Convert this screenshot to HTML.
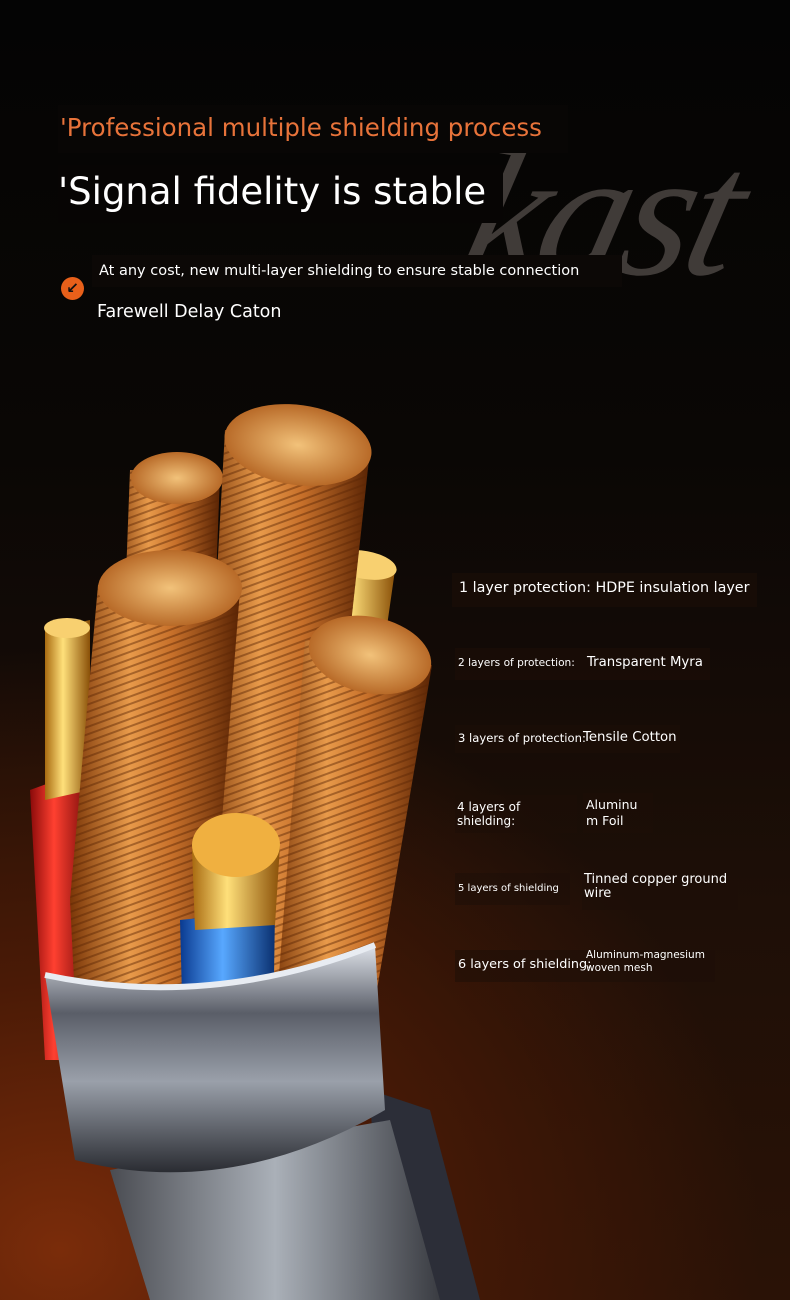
<!DOCTYPE html>
<html><head><meta charset="utf-8"><style>
html,body{margin:0;padding:0}
body{width:790px;height:1300px;position:relative;overflow:hidden;font-family:"DejaVu Sans","Liberation Sans",sans-serif;
background:radial-gradient(ellipse 700px 600px at 60px 1250px,#7a2c0a 0%,#4a1a06 45%,rgba(20,8,3,0) 100%),linear-gradient(180deg,#040404 0%,#0a0705 35%,#1e0f07 70%,#2a1206 100%);}
.t{position:absolute;color:#fff;white-space:nowrap}
.box{position:absolute;background:rgba(30,15,8,.55)}
</style></head><body>
<div class="t" style="left:470px;top:110px;font-family:'Liberation Serif',serif;font-style:italic;font-size:180px;color:#403b38;letter-spacing:-6px;transform:skewX(-14deg)">kast</div>
<div class="box" style="left:58px;top:105px;width:510px;height:48px;background:#080605"></div>
<div class="t" style="left:60px;top:113px;font-size:24.5px;color:#e8733a">'Professional multiple shielding process</div>
<div class="box" style="left:58px;top:165px;width:445px;height:58px;background:#070504"></div>
<div class="t" style="left:58px;top:170px;font-size:37px">'Signal fidelity is stable</div>
<div class="box" style="left:92px;top:255px;width:530px;height:32px;background:#0c0806"></div>
<div class="t" style="left:99px;top:263px;font-size:14.5px">At any cost, new multi-layer shielding to ensure stable connection</div>
<div style="position:absolute;left:61px;top:277px;width:23px;height:23px;border-radius:50%;background:#e8601a;color:#111;font-size:15px;line-height:23px;text-align:center;font-weight:bold">↙</div>
<div class="t" style="left:97px;top:302px;font-size:17.5px">Farewell Delay Caton</div>

<svg width="790" height="1300" style="position:absolute;left:0;top:0">
<defs>
<linearGradient id="cu" x1="0" x2="1"><stop offset="0" stop-color="#7a3608"/><stop offset=".35" stop-color="#e89a4a"/><stop offset=".6" stop-color="#c7702a"/><stop offset="1" stop-color="#5a2404"/></linearGradient>
<pattern id="st" width="12" height="7" patternUnits="userSpaceOnUse" patternTransform="rotate(-20)"><rect y="5" width="12" height="2" fill="#5a2504" opacity=".45"/></pattern>
<radialGradient id="cap"><stop offset="0" stop-color="#f2c27a"/><stop offset="1" stop-color="#b86a28"/></radialGradient>
<linearGradient id="gold" x1="0" x2="1"><stop offset="0" stop-color="#a86a10"/><stop offset=".4" stop-color="#ffe07a"/><stop offset="1" stop-color="#8a5008"/></linearGradient>
<linearGradient id="red" x1="0" x2="1"><stop offset="0" stop-color="#8a0a0a"/><stop offset=".4" stop-color="#ff4030"/><stop offset="1" stop-color="#700808"/></linearGradient>
<linearGradient id="blue" x1="0" x2="1"><stop offset="0" stop-color="#0a3a90"/><stop offset=".45" stop-color="#58a8ff"/><stop offset="1" stop-color="#0a3070"/></linearGradient>
<linearGradient id="met" x1="0" x2="0" y1="0" y2="1"><stop offset="0" stop-color="#dfe3ea"/><stop offset=".3" stop-color="#5a5e68"/><stop offset=".6" stop-color="#9aa0aa"/><stop offset="1" stop-color="#2a2c32"/></linearGradient>
<linearGradient id="braid" x1="0" x2="1"><stop offset="0" stop-color="#4a4c52"/><stop offset=".5" stop-color="#aab0b8"/><stop offset="1" stop-color="#3a3c42"/></linearGradient>
</defs>
<path d="M370 1090 L430 1110 L480 1300 L380 1300Z" fill="#2c2e38"/>
<path d="M110 1170 L390 1120 L440 1300 L150 1300Z" fill="url(#braid)"/>
<path d="M30 790 L85 770 L90 1060 L45 1060Z" fill="url(#red)"/>
<path d="M45 630 L90 620 L90 790 L45 800Z" fill="url(#gold)"/><ellipse cx="67" cy="628" rx="23" ry="10" fill="#f8d070"/>
<path d="M330 560 L395 570 L385 640 L320 630Z" fill="url(#gold)"/><ellipse cx="365" cy="565" rx="32" ry="14" fill="#f8d070" transform="rotate(10 365 565)"/>
<path d="M130 470 L220 475 L200 1000 L110 1000Z" fill="url(#cu)"/><path d="M130 470 L220 475 L200 1000 L110 1000Z" fill="url(#st)"/>
<ellipse cx="177" cy="478" rx="46" ry="26" fill="url(#cap)"/>
<path d="M225 430 L370 450 L300 1090 L200 1090 L210 700Z" fill="url(#cu)"/><path d="M225 430 L370 450 L300 1090 L200 1090 L210 700Z" fill="url(#st)"/>
<ellipse cx="298" cy="445" rx="74" ry="40" fill="url(#cap)" transform="rotate(8 298 445)"/>
<path d="M305 640 L432 665 L360 1090 L270 1090Z" fill="url(#cu)"/><path d="M305 640 L432 665 L360 1090 L270 1090Z" fill="url(#st)"/>
<ellipse cx="370" cy="655" rx="62" ry="38" fill="url(#cap)" transform="rotate(12 370 655)"/>
<path d="M98 585 L240 590 L200 1100 L80 1100 L70 900Z" fill="url(#cu)"/><path d="M98 585 L240 590 L200 1100 L80 1100 L70 900Z" fill="url(#st)"/>
<ellipse cx="170" cy="588" rx="72" ry="38" fill="url(#cap)"/>
<path d="M180 920 L275 910 L272 1110 L185 1110Z" fill="url(#blue)"/>
<path d="M192 850 L280 845 L275 925 L195 930Z" fill="url(#gold)"/><ellipse cx="236" cy="845" rx="44" ry="32" fill="#f0b040"/>
<path d="M45 975 Q210 1010 375 945 L385 1110 Q230 1200 75 1160Z" fill="url(#met)"/>
<path d="M45 975 Q210 1010 375 945" stroke="#e8ecf2" stroke-width="6" fill="none"/>
</svg>

<div class="box" style="left:452px;top:573px;width:305px;height:34px"></div>
<div class="t" style="left:459px;top:580px;font-size:14.3px">1 layer protection: HDPE insulation layer</div>
<div class="box" style="left:455px;top:648px;width:255px;height:32px"></div>
<div class="t" style="left:458px;top:657px;font-size:10.6px">2 layers of protection:</div>
<div class="t" style="left:587px;top:655px;font-size:13.3px">Transparent Myra</div>
<div class="box" style="left:455px;top:725px;width:225px;height:28px"></div>
<div class="t" style="left:458px;top:731px;font-size:11.6px">3 layers of protection:</div>
<div class="t" style="left:583px;top:730px;font-size:13.3px">Tensile Cotton</div>
<div class="box" style="left:455px;top:795px;width:122px;height:38px"></div>
<div class="t" style="left:457px;top:800px;font-size:12px;line-height:14px">4 layers of<br>shielding:</div>
<div class="box" style="left:583px;top:793px;width:70px;height:40px"></div>
<div class="t" style="left:586px;top:797px;font-size:12.5px;line-height:16px">Aluminu<br>m Foil</div>
<div class="box" style="left:455px;top:873px;width:115px;height:32px"></div>
<div class="t" style="left:458px;top:883px;font-size:10px">5 layers of shielding</div>
<div class="box" style="left:582px;top:872px;width:156px;height:38px"></div>
<div class="t" style="left:584px;top:873px;font-size:13px;line-height:14px">Tinned copper ground<br>wire</div>
<div class="box" style="left:455px;top:950px;width:260px;height:32px"></div>
<div class="t" style="left:458px;top:957px;font-size:12.8px">6 layers of shielding:</div>
<div class="t" style="left:586px;top:949px;font-size:10.5px;line-height:13px">Aluminum-magnesium<br>woven mesh</div>
</body></html>
